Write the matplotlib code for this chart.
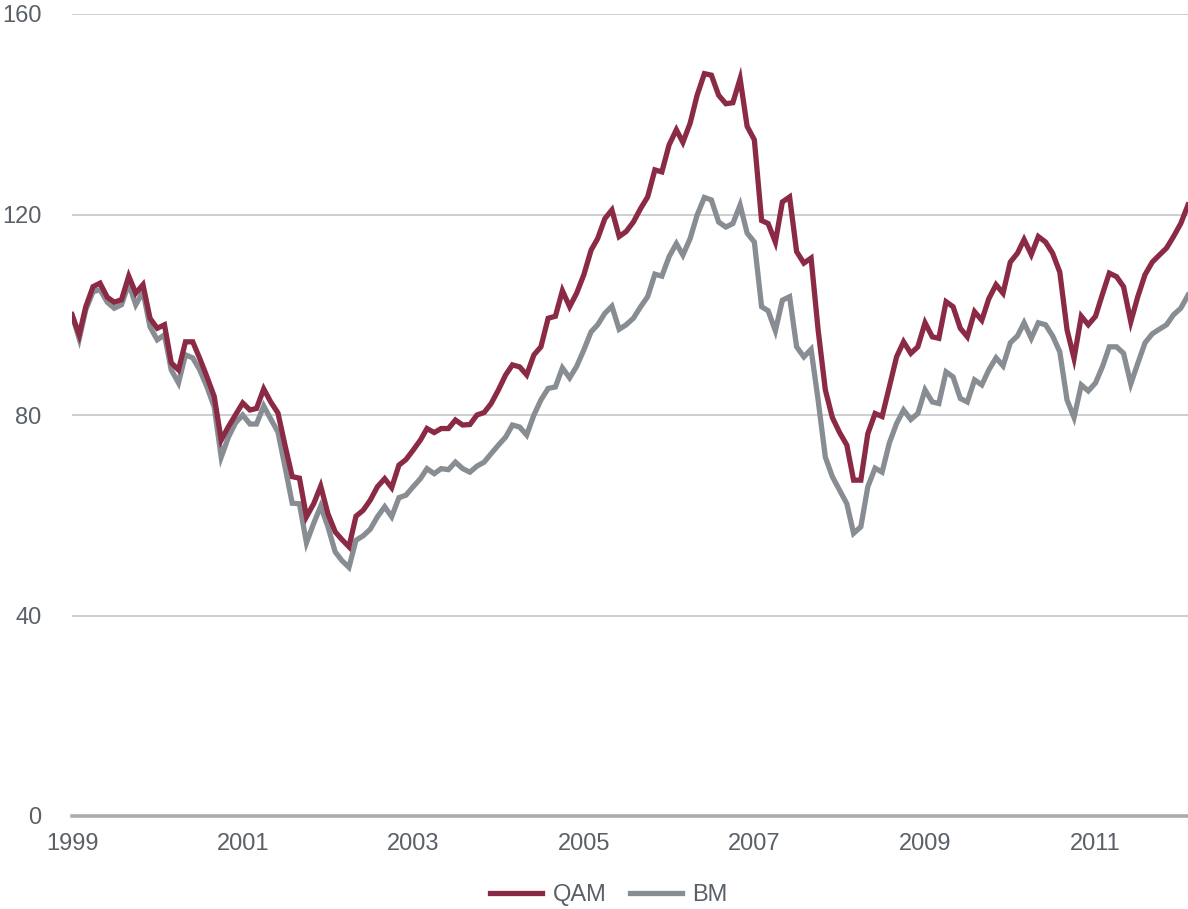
import matplotlib
matplotlib.use("Agg")
import matplotlib.pyplot as plt
import pandas as pd

plt.rcParams['font.family'] = ['Liberation Sans', 'DejaVu Sans']

dates = pd.date_range('1999-01-01', periods=158, freq='MS')

qam = [100, 96, 101.6, 105.6, 106.3, 103.5, 102.5, 103, 107.7, 104.3, 106, 99.3,
       97.3, 98, 90.4, 89, 94.6, 94.6, 91.3, 87.6, 83.7, 75, 77.7, 80,
       82.4, 81, 81.3, 85.2, 82.6, 80.4, 74, 67.7, 67.4, 59.7, 62.3, 65.8,
       60.3, 56.7, 55.2, 53.7, 59.8, 61, 63, 65.7, 67.3, 65.5, 70, 71.1,
       73, 75, 77.3, 76.5, 77.3, 77.3, 79, 78, 78.1, 80, 80.5, 82.3,
       85, 88, 90, 89.6, 88, 92, 93.6, 99.3, 99.7, 104.8, 101.6, 104.3,
       108, 112.9, 115.2, 119.2, 120.9, 115.6, 116.6, 118.5, 121.2, 123.5, 128.9, 128.5,
       133.9, 136.9, 134.4, 138.2, 143.8, 148.1, 147.8, 143.8, 142.1, 142.3, 147.1, 137.6,
       134.9, 118.8, 118.2, 114.5, 122.5, 123.5, 112.6, 110.3, 111.3, 97, 85, 79.5,
       76.5, 74, 67, 67, 76.3, 80.3, 79.7, 85.6, 91.6, 94.6, 92.3, 93.6,
       98.4, 95.6, 95.3, 102.6, 101.6, 97.3, 95.6, 100.6, 98.9, 103.2, 106, 104.3,
       110.5, 112.3, 115, 112, 115.6, 114.5, 112.3, 108.5, 97, 91.3, 99.7, 98,
       99.7, 104.3, 108.3, 107.6, 105.6, 98.6, 103.6, 108, 110.5, 111.9, 113.3, 115.6,
       118.2, 121.9]

bm = [100, 95.2, 101, 104.6, 105, 102.5, 101.3, 102, 106.2, 102, 104.6, 97.6,
      95, 96, 89, 86.4, 92, 91.4, 89, 85.6, 81.6, 71.6, 75.6, 78.4,
      80, 78.2, 78.2, 81.8, 79.2, 76.6, 69.7, 62.4, 62.3, 54.5, 58.4, 61.8,
      57.7, 52.7, 51, 49.6, 55, 55.9, 57.2, 59.7, 61.7, 59.7, 63.5, 64,
      65.7, 67.3, 69.3, 68.3, 69.3, 69.1, 70.6, 69.3, 68.6, 69.8, 70.6, 72.3,
      74, 75.6, 78, 77.6, 76, 80, 83, 85.3, 85.6, 89.4, 87.4, 89.7,
      93, 96.6, 98, 100.3, 101.7, 97.1, 98, 99.3, 101.6, 103.6, 108.1, 107.7,
      111.6, 114.2, 111.9, 115.2, 119.9, 123.4, 122.9, 118.5, 117.5, 118.2, 121.9, 116.3,
      114.5, 101.6, 100.8, 96.8, 102.9, 103.6, 93.6, 91.6, 93.1, 83, 71.6, 67.7,
      65, 62.3, 56.4, 57.7, 65.7, 69.4, 68.6, 74.4, 78.3, 81, 79.1, 80.3,
      85, 82.6, 82.3, 88.6, 87.6, 83.3, 82.6, 87, 86, 89, 91.4, 89.8,
      94.4, 95.8, 98.4, 95.3, 98.4, 98, 95.8, 92.6, 83, 79.5, 86, 84.8,
      86.4, 89.8, 93.6, 93.6, 92.3, 86.2, 90.3, 94.4, 96.2, 97.1, 98, 100,
      101.3, 103.9]

series_names = ['QAM', 'BM']
colors = ['#8B2A45', '#878D93']
yticks = [0, 40, 80, 120, 160]
xtick_years = [1999, 2001, 2003, 2005, 2007, 2009, 2011]

fig = plt.figure(figsize=(11.88, 9.09), dpi=100)
ax = fig.add_axes([72/1188, 93/909, 1116/1188, 802/909])

ax.plot(dates, qam, color=colors[0], lw=3.8, label=series_names[0], solid_joinstyle='miter', zorder=3)
ax.plot(dates, bm, color=colors[1], lw=3.8, label=series_names[1], solid_joinstyle='miter', zorder=2)

ax.set_ylim(0, 160)
ax.set_xlim(dates[0], dates[-1])
ax.set_yticks(yticks)
ax.set_xticks([pd.Timestamp(f'{y}-01-01') for y in xtick_years])
ax.set_xticklabels([str(y) for y in xtick_years])

for y in yticks[1:]:
    ax.axhline(y, color='#BEC1C5', lw=1.1, zorder=1)
ax.axhline(0, color='#A9ACB0', lw=2.6, zorder=1, clip_on=False)

for s in ax.spines.values():
    s.set_visible(False)

ax.tick_params(axis='both', length=0, labelsize=17, colors='#5A6068')
ax.tick_params(axis='y', pad=22)
ax.tick_params(axis='x', pad=12)

fig.legend(loc='center', bbox_to_anchor=(609/1188, 1 - 895/909), ncol=2, frameon=False,
           fontsize=17, handlelength=2.2, handletextpad=0.45, columnspacing=1.0,
           labelcolor='#5A6068')

fig.savefig('out.png', dpi=100)
